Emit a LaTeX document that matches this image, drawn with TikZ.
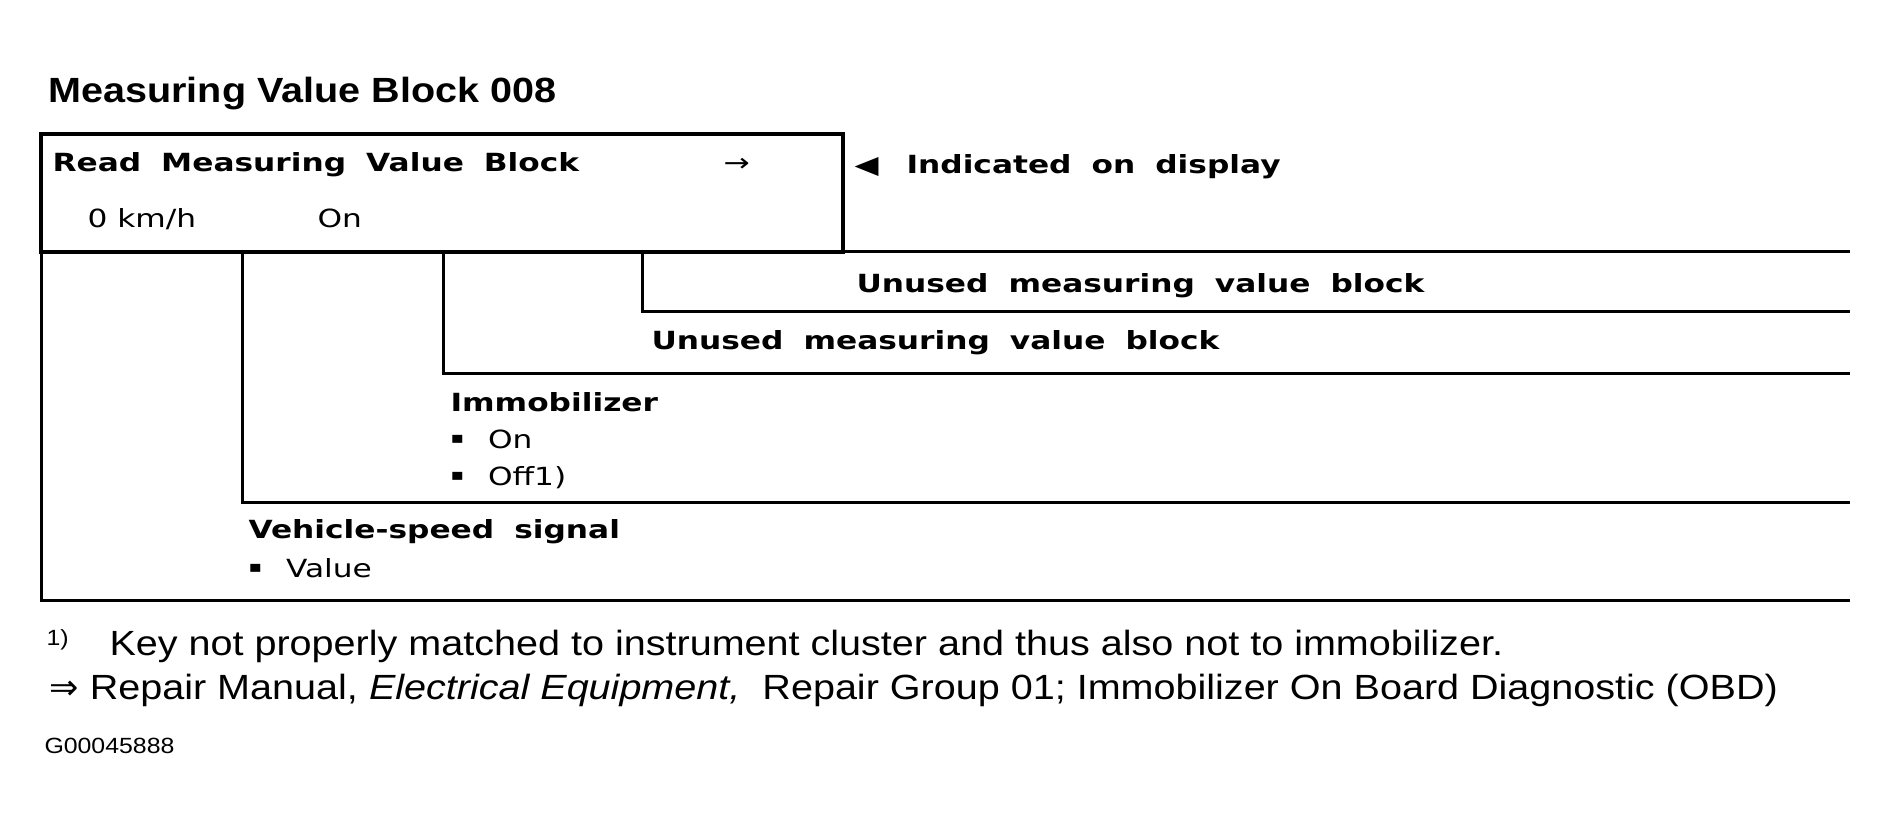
\documentclass[tikz,border=0pt]{standalone}
\usepackage{fontspec}
\setmainfont{Liberation Sans}[FakeStretch=1.13]
\newfontfamily\pixfont{DejaVu Sans}[FakeStretch=1.25]
\newfontfamily\symfont{DejaVu Sans}
\usetikzlibrary{positioning}

\begin{document}
\begin{tikzpicture}[x=1pt,y=-1pt,line width=3pt,
    lab/.style={inner sep=0pt,anchor=base west,font={\pixfont\fontsize{25}{30}\selectfont}},
    blab/.style={lab,font={\pixfont\bfseries\fontsize{25}{30}\selectfont\spaceskip=20pt\relax}},
    note/.style={inner sep=0pt,anchor=base west,font={\fontsize{35}{40}\selectfont}},
    small/.style={note,font={\fontsize{22}{26}\selectfont}}]
  \useasboundingbox (0,0) rectangle (1888,829);
  \node[note,font={\bfseries\fontsize{35}{40}\selectfont}] (t0) at (47,103) {Measuring Value Block 008};
  \node[draw,line width=4.5pt,outer sep=0pt,inner sep=0pt,anchor=north west,
    minimum width=802pt,minimum height=118pt] (b0) at (41,134) {};

  \coordinate (r1) at (1850,252); \coordinate (r2) at (1850,311);
  \coordinate (r3) at (1850,373); \coordinate (r4) at (1850,502);
  \coordinate (r5) at (1850,600);
  \draw (b0.south east) -- (r1);
  \draw ([xshift=601pt]b0.south west) |- (r2);
  \draw ([xshift=402pt]b0.south west) |- (r3);
  \draw ([xshift=201pt]b0.south west) |- (r4);
  \draw (b0.south west) |- (r5);

  \node[blab] (rd) at (51,172) {Read Measuring Value Block};
  \node[lab] (ar) at (722,172) {→};
  \node[lab] (tri) at (853,174) {◀}; \node[blab] (ind) at (905,174) {Indicated on display};
  \node[lab] (v0) at (86,228) {0 km/h}; \node[lab] (v1) at (316,228) {On};
  \node[blab] (u1) at (855,292) {Unused measuring value block};
  \node[blab] (u2) at (650,349) {Unused measuring value block};
  \node[blab] (im) at (449,411) {Immobilizer};
  \node[lab,below=37pt of im.base west,anchor=base west] (im1) {\raisebox{5pt}{\fontsize{16}{16}\selectfont▪}\hspace{24pt}On};
  \node[lab,below=37pt of im1.base west,anchor=base west] (im2) {\raisebox{5pt}{\fontsize{16}{16}\selectfont▪}\hspace{24pt}Off1)};
  \node[blab] (vs) at (247,538) {Vehicle-speed signal};
  \node[lab,below=39pt of vs.base west,anchor=base west] (vs1) {\raisebox{5pt}{\fontsize{16}{16}\selectfont▪}\hspace{24pt}Value};

  \node[small] (f0) at (45,645) {1)};
  \node[note] (f1) at (108,655) {Key not properly matched to instrument cluster and thus also not to immobilizer.};
  \node[note] (f2) at (48,699) {{\symfont ⇒} Repair Manual, \textit{Electrical Equipment,}\ \ Repair Group 01; Immobilizer On Board Diagnostic (OBD)};
  \node[small] (g0) at (43,753) {G00045888};
\end{tikzpicture}
\end{document}
